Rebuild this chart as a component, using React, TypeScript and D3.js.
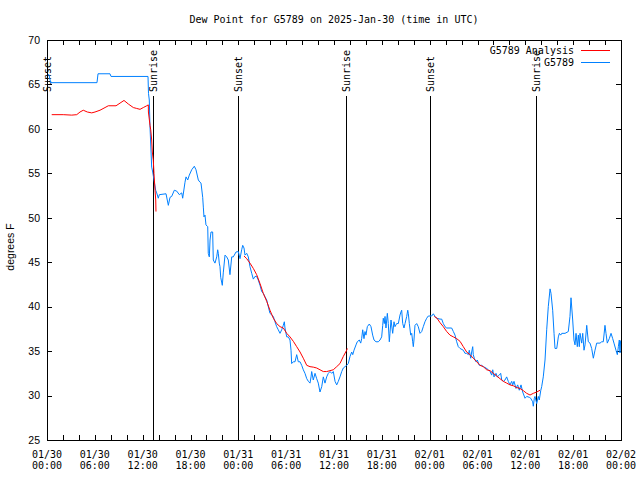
import React from "react";
import * as d3 from "d3";

const title = "Dew Point for G5789 on 2025-Jan-30 (time in UTC)";
const yAxisLabel = "degrees F";
const seriesNames = ["G5789 Analysis", "G5789"];
const startTime = Date.UTC(2025, 0, 30, 0, 0);
const endTime = Date.UTC(2025, 1, 2, 0, 0);
const yDomain = [25, 70];
const yTicks = [25, 30, 35, 40, 45, 50, 55, 60, 65, 70];

// [hours since 01/30 00:00 UTC, dew point °F]
const observed: [number, number][] = [
  [0, 66.1], [0.25, 66.1], [0.46, 65.2], [6.27, 65.2], [6.4, 66.2], [7.9, 66.2], [8.03, 65.9],
  [12.67, 65.9], [12.73, 64.0], [12.83, 63.25], [12.92, 60.2], [13.13, 55.7], [13.26, 55.15],
  [13.42, 54.25], [13.63, 53.1], [13.76, 52.8], [13.96, 52.2], [14.09, 52.6], [14.93, 52.7],
  [15.22, 51.4], [15.43, 52.3], [15.64, 52.4], [15.97, 53.1], [16.27, 53.0], [16.6, 52.6],
  [16.9, 52.8], [17.02, 52.2], [17.31, 54.0], [17.44, 54.6], [17.65, 54.25], [17.85, 54.8],
  [18.15, 55.4], [18.48, 55.8], [18.69, 55.4], [18.98, 54.25], [19.19, 54.0], [19.32, 53.9],
  [19.53, 52.3], [19.61, 51.2], [19.69, 50.1], [19.82, 50.3], [19.94, 49.2], [20.16, 49.0],
  [20.23, 46.0], [20.36, 45.6], [20.45, 47.5], [20.57, 48.4], [20.78, 48.4], [20.86, 45.25],
  [21.07, 44.9], [21.29, 45.6], [21.41, 46.4], [21.49, 46.0], [21.61, 44.9], [21.7, 44.5],
  [21.79, 43.3], [21.99, 42.4], [22.11, 43.8], [22.33, 45.8], [22.54, 45.6], [22.74, 45.25],
  [22.95, 43.6], [23.17, 45.6], [23.37, 45.6], [23.71, 46.15], [24.0, 46.2], [24.21, 45.4],
  [24.42, 46.4], [24.55, 46.9], [24.71, 46.6], [24.84, 45.8], [25.05, 46.0], [25.25, 45.6],
  [25.46, 44.5], [25.68, 43.75], [25.88, 43.1], [26.09, 43.4], [26.3, 43.4], [26.5, 43.0],
  [26.72, 42.4], [26.93, 41.7], [27.13, 41.5], [27.35, 41.1], [27.56, 40.75], [27.76, 40.0],
  [27.97, 39.25], [28.19, 39.06], [28.39, 38.9], [28.6, 38.3], [28.81, 37.75], [29.01, 37.4],
  [29.23, 37.0], [29.44, 37.4], [29.64, 37.9], [29.77, 38.3], [29.85, 37.6], [30.07, 36.6],
  [30.27, 36.6], [30.48, 36.25], [30.61, 35.1], [30.69, 33.6], [30.9, 33.8], [31.11, 33.8],
  [31.32, 34.6], [31.52, 33.8], [31.74, 33.8], [31.95, 33.4], [32.15, 32.9], [32.36, 32.5],
  [32.58, 31.9], [32.78, 31.6], [32.99, 31.4], [33.12, 32.1], [33.2, 32.7], [33.4, 31.75],
  [33.62, 32.5], [33.83, 31.9], [34.03, 31.4], [34.24, 30.4], [34.46, 31.0], [34.66, 32.1],
  [34.87, 31.4], [35.08, 32.1], [35.29, 32.5], [35.5, 32.7], [35.71, 32.5], [35.91, 32.7],
  [36.13, 31.6], [36.34, 31.2], [36.54, 31.6], [36.75, 32.1], [36.97, 32.7], [37.17, 33.1],
  [37.38, 33.25], [37.59, 33.4], [37.79, 33.6], [38.01, 34.4], [38.22, 34.9], [38.35, 34.6],
  [38.51, 35.1], [38.76, 35.7], [38.92, 36.05], [39.17, 36.25], [39.35, 35.9], [39.47, 36.4],
  [39.6, 37.4], [39.76, 36.4], [39.89, 37.2], [40.01, 36.8], [40.18, 37.75], [40.43, 38.05],
  [40.64, 37.75], [40.85, 36.8], [41.02, 36.25], [41.27, 36.05], [41.56, 36.05], [41.77, 36.25],
  [41.98, 36.6], [42.11, 37.9], [42.18, 38.7], [42.31, 38.1], [42.4, 38.9], [42.52, 37.6],
  [42.69, 39.25], [42.81, 38.1], [42.94, 36.05], [43.02, 37.0], [43.15, 38.5], [43.28, 37.6],
  [43.36, 37.0], [43.53, 38.3], [43.65, 37.75], [43.86, 38.1], [44.07, 38.1], [44.28, 39.06],
  [44.4, 39.4], [44.49, 39.6], [44.62, 38.1], [44.78, 37.6], [44.91, 38.1], [45.12, 38.9],
  [45.25, 39.6], [45.32, 39.25], [45.45, 38.1], [45.62, 36.8], [45.75, 37.0], [45.87, 36.05],
  [45.95, 35.5], [46.03, 36.25], [46.16, 37.9], [46.37, 38.1], [46.57, 37.75], [46.79, 37.0],
  [47.0, 37.2], [47.2, 37.75], [47.41, 38.3], [47.63, 38.7], [47.83, 38.95], [48.25, 38.95],
  [48.46, 39.2], [48.67, 38.9], [48.88, 38.7], [49.3, 38.6], [49.51, 38.6], [49.71, 38.1],
  [49.92, 37.75], [50.14, 37.6], [50.76, 37.6], [50.97, 37.2], [51.18, 36.8], [51.39, 36.05],
  [51.59, 35.5], [51.81, 35.3], [52.22, 35.1], [52.43, 34.75], [52.64, 34.75], [52.85, 34.6],
  [52.97, 35.1], [53.15, 34.2], [53.27, 34.9], [53.4, 35.5], [53.47, 34.6], [53.6, 34.2],
  [53.81, 33.8], [53.97, 34.0], [54.23, 33.4], [54.53, 33.4], [54.73, 33.25], [55.07, 33.1],
  [55.36, 32.9], [55.57, 32.7], [55.78, 32.3], [55.91, 32.9], [56.07, 32.1], [56.32, 32.5],
  [56.48, 32.1], [56.73, 32.3], [56.91, 32.5], [57.04, 31.75], [57.24, 31.6], [57.45, 31.75],
  [57.66, 32.1], [57.86, 31.6], [58.08, 31.2], [58.29, 31.6], [58.42, 31.2], [58.58, 31.6],
  [58.83, 30.8], [59.04, 31.2], [59.24, 30.6], [59.46, 31.2], [59.67, 30.4], [59.96, 29.7],
  [60.17, 29.9], [60.5, 29.8], [60.67, 29.7], [60.92, 29.3], [61.0, 28.8], [61.13, 29.7],
  [61.21, 29.9], [61.43, 29.1], [61.63, 29.9], [61.75, 29.5], [61.93, 30.55], [62.05, 31.0],
  [62.25, 32.1], [62.47, 34.0], [62.68, 37.4], [62.88, 40.0], [63.1, 42.0], [63.22, 41.5],
  [63.43, 39.6], [63.6, 37.0], [63.72, 35.3], [63.94, 35.3], [64.14, 36.6], [64.27, 37.0],
  [64.44, 36.8], [64.57, 37.0], [64.98, 37.0], [65.39, 37.2], [65.6, 38.9], [65.73, 41.0],
  [65.94, 38.5], [66.1, 36.25], [66.23, 35.7], [66.36, 37.0], [66.52, 35.5], [66.65, 36.8],
  [66.77, 35.5], [66.86, 37.0], [67.07, 35.9], [67.2, 37.0], [67.36, 35.1], [67.49, 35.7],
  [67.7, 37.9], [67.9, 36.05], [68.11, 35.9], [68.32, 35.3], [68.53, 34.2], [68.74, 35.1],
  [68.95, 35.9], [69.37, 35.9], [69.58, 36.05], [69.78, 36.05], [69.99, 37.9], [70.12, 37.0],
  [70.28, 35.9], [70.53, 36.4], [70.75, 37.0], [70.96, 36.4], [71.12, 35.9], [71.37, 35.1],
  [71.54, 34.6], [71.67, 35.5], [71.79, 36.25], [71.88, 34.8], [71.95, 36.2],
];

const analysis1: [number, number][] = [
  [0.59, 61.6], [2.04, 61.6], [3.1, 61.55], [3.73, 61.6], [4.14, 61.9], [4.55, 62.1], [5.06, 61.9],
  [5.61, 61.8], [6.02, 61.9], [6.65, 62.1], [7.28, 62.4], [7.69, 62.6], [8.66, 62.6], [9.16, 62.9],
  [9.66, 63.2], [10.2, 62.8], [10.83, 62.4], [11.25, 62.3], [11.67, 62.2], [12.08, 62.4],
  [12.51, 62.6], [12.71, 62.7], [12.72, 61.9], [12.92, 60.4], [13.01, 59.9], [13.13, 58.75],
  [13.21, 57.4], [13.33, 56.5], [13.42, 55.0], [13.55, 53.1], [13.64, 52.0], [13.67, 50.7],
];
const analysis2: [number, number][] = [
  [24.71, 45.7], [25.05, 45.4], [25.46, 44.9], [25.88, 44.3], [26.3, 43.6], [26.72, 42.6],
  [27.13, 41.5], [27.56, 40.6], [27.97, 39.6], [28.39, 38.7], [28.81, 38.1], [29.23, 37.75],
  [29.64, 37.6], [30.07, 37.0], [30.48, 36.6], [30.9, 36.1], [31.32, 35.5], [31.74, 34.9],
  [32.15, 34.2], [32.58, 33.4], [32.99, 33.25], [33.4, 33.2], [33.83, 33.1], [34.24, 32.9],
  [34.66, 32.7], [35.08, 32.7], [35.5, 32.8], [35.91, 32.9], [36.34, 33.25], [36.75, 33.6],
  [37.17, 34.4], [37.59, 35.1], [37.67, 35.3],
];
const analysis3: [number, number][] = [
  [48.58, 38.9], [48.92, 38.7], [49.3, 38.2], [49.71, 37.75], [50.14, 37.2], [50.55, 36.8],
  [50.97, 36.6], [51.39, 36.4], [51.81, 36.1], [52.22, 35.5], [52.64, 34.9], [53.06, 34.6],
  [53.47, 34.2], [53.9, 33.8], [54.31, 33.4], [54.73, 33.25], [55.15, 32.9], [55.57, 32.8],
  [55.98, 32.5], [56.4, 32.2], [56.82, 31.9], [57.24, 31.6], [57.66, 31.4], [58.08, 31.2],
  [58.49, 31.1], [58.92, 30.9], [59.33, 30.8], [59.75, 30.55], [60.17, 30.25], [60.59, 30.06],
  [61.0, 30.25], [61.43, 30.4], [61.85, 30.6],
];

const eventLabels = ["Sunset", "Sunrise", "Sunset", "Sunrise", "Sunset", "Sunrise"];
const eventHours = [0, 13.34, 23.98, 37.5, 48.04, 61.34];

const W = 640, H = 480;
const L = 47, R = 621, T = 40, B = 440;
const mono = "'DejaVu Sans Mono', monospace";
const sans = "'Liberation Sans', Arial, sans-serif";
const RED = "#ff0000";
const BLUE = "#0080ff";

const toDate = (h: number) => new Date(startTime + h * 3600 * 1000);

export default function App() {
  const x = d3.scaleUtc().domain([new Date(startTime), new Date(endTime)]).range([L, R]);
  const y = d3.scaleLinear().domain(yDomain).range([B, T]);
  const line = d3.line<[number, number]>().x(d => x(toDate(d[0]))).y(d => y(d[1]));
  const majorTicks = x.ticks(d3.utcHour.every(6)!);
  const minorTicks = x.ticks(d3.utcHour.every(2)!);
  const fmtDate = d3.utcFormat("%m/%d");
  const fmtTime = d3.utcFormat("%H:%M");
  const tickLen = 5;

  return (
    <svg width={W} height={H} style={{ position: "absolute", left: 0, top: 0, background: "#fff" }}>
      <rect x={0} y={0} width={W} height={H} fill="#fff" />
      <text x={334} y={23} textAnchor="middle" fontFamily={mono} fontSize={10}>{title}</text>
      {/* y ticks */}
      {yTicks.map(v => (
        <g key={"y" + v}>
          <line x1={L} x2={L + tickLen} y1={Math.round(y(v)) + 0.5} y2={Math.round(y(v)) + 0.5} stroke="#000" />
          <line x1={R - tickLen} x2={R} y1={Math.round(y(v)) + 0.5} y2={Math.round(y(v)) + 0.5} stroke="#000" />
          <text x={40} y={y(v)} dy="0.36em" textAnchor="end" fontFamily={sans} fontSize={10.5}>{v}</text>
        </g>
      ))}
      {/* x ticks */}
      {minorTicks.map((d, i) => (
        <g key={"mx" + i}>
          <line x1={Math.round(x(d)) + 0.5} x2={Math.round(x(d)) + 0.5} y1={B} y2={B - tickLen} stroke="#000" />
          <line x1={Math.round(x(d)) + 0.5} x2={Math.round(x(d)) + 0.5} y1={T} y2={T + tickLen} stroke="#000" />
        </g>
      ))}
      {majorTicks.map((d, i) => (
        <g key={"x" + i}>
          <text x={x(d)} y={457.5} textAnchor="middle" fontFamily={mono} fontSize={10}>{fmtDate(d)}</text>
          <text x={x(d)} y={468.5} textAnchor="middle" fontFamily={mono} fontSize={10}>{fmtTime(d)}</text>
        </g>
      ))}
      <text transform={`translate(10,247) rotate(-90)`} textAnchor="middle" dy="0.35em" fontFamily={sans} fontSize={10.5}>{yAxisLabel}</text>
      {/* events */}
      {eventHours.map((h, i) => {
        const ex = Math.round(x(toDate(h))) + 0.5;
        return (
          <g key={"e" + i}>
            <line x1={ex} x2={ex} y1={96} y2={B} stroke="#000" />
            <text transform={`translate(${ex},92) rotate(-90)`} dy="0.35em" fontFamily={mono} fontSize={10}>{eventLabels[i]}</text>
          </g>
        );
      })}
      {/* series */}
      <path d={line(observed)!} fill="none" stroke={BLUE} strokeWidth={1} />
      {[analysis1, analysis2, analysis3].map((seg, i) => (
        <path key={"a" + i} d={line(seg)!} fill="none" stroke={RED} strokeWidth={1} />
      ))}
      {/* frame */}
      <rect x={L + 0.5} y={T + 0.5} width={R - L} height={B - T} fill="none" stroke="#000" />
      {/* legend */}
      <text x={574} y={50} dy="0.35em" textAnchor="end" fontFamily={mono} fontSize={10}>{seriesNames[0]}</text>
      <line x1={581} x2={610} y1={50.5} y2={50.5} stroke={RED} />
      <text x={574} y={62} dy="0.35em" textAnchor="end" fontFamily={mono} fontSize={10}>{seriesNames[1]}</text>
      <line x1={581} x2={610} y1={62.5} y2={62.5} stroke={BLUE} />
    </svg>
  );
}
